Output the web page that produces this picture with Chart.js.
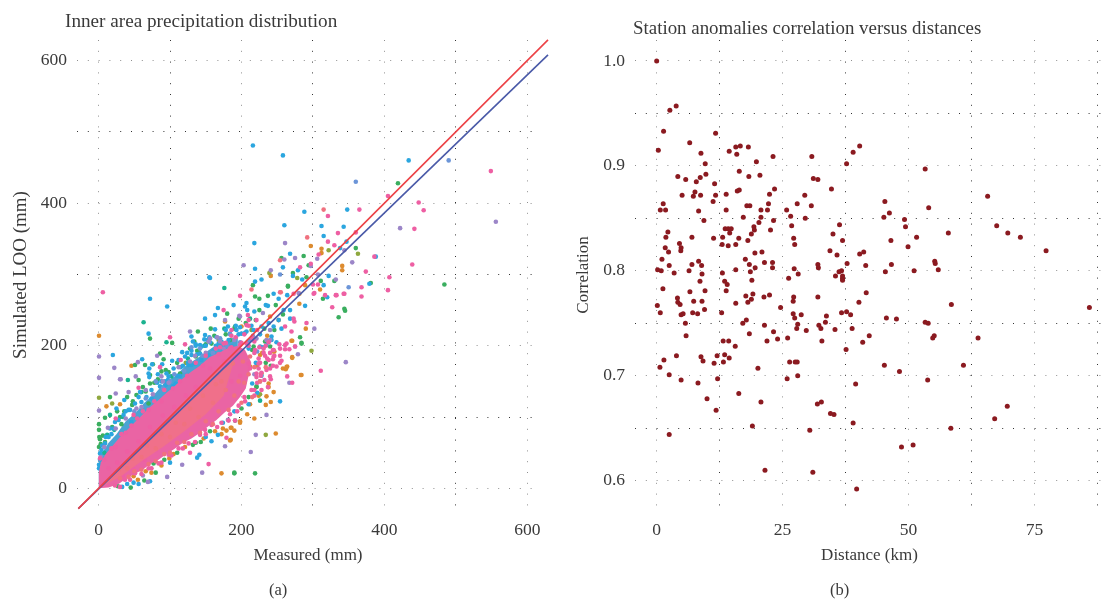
<!DOCTYPE html>
<html>
<head>
<meta charset="utf-8">
<title>Precipitation charts</title>
<script src="https://cdn.jsdelivr.net/npm/chart.js@4/dist/chart.umd.min.js"></script>
<style>
  html, body { margin: 0; padding: 0; background: #fff; overflow: hidden; }
  #page { position: relative; width: 1108px; height: 601px; font-family: "Liberation Serif", serif; color: #3a3a3a; }
  canvas { position: absolute; top: 0; }
  #chartA { left: 0; }
  #chartB { left: 554px; }
  .txt { position: absolute; white-space: nowrap; }
</style>
</head>
<body>
<div id="page">
  <canvas id="chartA" width="554" height="601"></canvas>
  <canvas id="chartB" width="554" height="601"></canvas>
  <div class="txt" style="left:65px;top:10px;font-size:19.2px">Inner area precipitation distribution</div>
  <div class="txt" style="left:633px;top:17px;font-size:18.9px">Station anomalies correlation versus distances</div>
  <div class="txt" style="left:269px;top:580px;font-size:16.5px">(a)</div>
  <div class="txt" style="left:830px;top:580px;font-size:16.5px">(b)</div>
</div>

<script>
// ---- panel (a) ----
const ticksA = [0, 200, 400, 600];

// fit lines, ends
const lineX = [-28.4, 629];
const redY = [-28.4, 629];
const blueY = [-28.4, 608];

// outline of the solid part of the cloud, too dense to read point by point
const outerUpper = [[0,0],[0,34],[5,50],[14,64],[25,76],[38,94],[52,106],[64,120],[80,134],[92,148],[108,158],[122,172],[140,184],[160,198],[176,206],[195,214]];
const outerLower = [[0,0],[195,190]];
const pinkUpper = [[0,0],[0,20],[3,36],[10,48],[20,60],[30,72],[42,84],[50,92],[62,104],[72,114],[84,124],[95,134],[107,144],[118,154],[130,164],[142,172],[155,184],[168,190],[180,196],[195,200],[205,194],[214,176]];
const pinkLower = [[0,0],[14,1],[28,6],[38,13],[50,20],[62,26],[72,34],[84,40],[95,48],[106,55],[118,64],[130,70],[142,78],[155,88],[165,96],[176,106],[188,116],[198,128],[206,140],[214,176]];
const coreUpper = [[2,2],[40,42],[80,82],[120,122],[160,160],[190,180]];
const coreLower = [[2,2],[30,16],[60,38],[90,58],[120,80],[150,104],[175,130],[190,180]];

// separate points
const orangePts = [[312,336],[297,340],[312,330],[341,312],[341,306],[241,298],[310,279],[289,285],[281,273],[0.6,214],[46,172],[11,115],[30,118],[172,21],[105,48],[172,76],[179,81],[186,85],[185,68],[174,84],[198,94],[99,42],[55,12],[49,17],[66,24],[271,183],[284,159],[264,171],[258,168],[262,167],[245,135],[241,121],[235,129],[234,117],[248,77],[198,92],[185,85],[190,81],[184,67],[238,147],[246,192],[271,207],[229,190],[281,259],[290,224],[270,207],[271,184],[263,170],[283,159],[226,187],[121,58],[147,70],[163,80],[212,118],[224,130],[208,104],[88,32],[74,22],[222,172],[236,214],[252,236],[218,98],
  [177,234],[200,227],[240,241],[245,192],[212,171],[228,161],[238,142]];
const oliveSpots = [[363,329],[278,295],[322,334],[239,302],[0.6,127],[19,119],[298,193],[234,75],[203,189],[168,208],[214,222],[226,132],[122,176]];
const greenPts = [[419,428],[360,337],[287,326],[256,323],[294,313],[272,302],[291,296],[330,291],[311,291],[216,285],[265,284],[484,286],[381,288],[219,269],[237,270],[225,266],[314,266],[72,210],[103,204],[139,220],[134,206],[138,193],[51,173],[65,173],[76,174],[91,181],[88,164],[56,152],[16,128],[36,108],[26,108],[9,99],[32,90],[0.6,90],[0.6,82],[9,65],[2,69],[0.6,58],[190,21],[132,61],[143,65],[136,64],[80,22],[64,11],[45,1],[27,3],[284,204],[219,21],[190,22],[191,95],[221,142],[241,172],[248,257],[225,250],[265,283],[344,252],[345,249],[336,240],[282,212],[284,203],[221,143],[215,194],[180,245],[86,189],[83,153],[72,147],[72,159],[53,131],[70,119],[40,128],[48,122],[62,142],
  [114,161],[98,163],[78,148],[66,136],[47,117],[30,100],[19,86],[6,74],[3,62],[1,72],[136,185],[150,202],[128,196],[162,214],[178,216],[190,224],[206,232],[220,236],[232,224],[196,238],[157,224],[110,176],[94,166],[77,35],[92,40],[110,50],[156,80],[200,112],[210,128],[234,176],[246,222],[258,244],
  [158,203],[191,227],[184,208],[217,199],[233,206],[240,199],[140,192]];
const tealPts = [[176,281],[63,233],[95,205],[41,152],[16,103],[12,75],[226,123],[60,135],[34,100],[22,82],[102,157],[125,182],[148,200],[176,224],[212,238],[8,50]];
const bluePts = [[216,481],[258,467],[434,460],[288,388],[348,391],[260,369],[312,368],[343,367],[315,354],[218,344],[347,346],[338,337],[268,329],[388,325],[219,308],[258,310],[279,306],[272,298],[322,298],[156,295],[228,293],[219,290],[285,293],[315,285],[379,287],[245,273],[264,271],[252,266],[72,266],[96,255],[149,238],[155,296],[70,217],[130,213],[149,215],[148,209],[117,191],[130,193],[61,181],[103,179],[71,168],[89,174],[105,168],[71,156],[83,160],[95,161],[20,187],[36,124],[18,76],[2,49],[0.6,28],[0.6,33],[141,47],[138,43],[158,66],[167,75],[40,6],[49,8],[254,122],[215,147],[189,257],[167,253],[163,243],[207,260],[205,255],[218,248],[208,250],[234,257],[237,256],[289,256],[320,268],[249,205],[75,174],[70,161],[108,147],[104,143],[94,145],[58,135],[74,126],[25,112],[46,93],[23,93],[115,170],[125,176],[138,188],[150,200],[165,212],[178,222],[192,228],[205,218],[44,110],[82,148],[97,152],[10,72],[5,60],[16,84],[130,173],[156,205],
  [107,145],[103,140],[121,185],[130,187],[144,199],[154,187],[168,203],[135,175],[144,180],[161,194],[175,192],[186,199],[142,189],[126,173],[114,158],[98,157],[93,150],[86,143],[74,138],[67,128],[60,121],[51,119],[42,110],[35,103],[28,96],[21,84],[14,72],[9,63],[4,54],[2,40],[118,172],[110,158],[88,150],[56,128],[38,108],[112,180],[124,190],[136,200],[172,206],[182,208],[196,216],[214,228],[226,216],[238,232],[242,208],[152,208],[164,200],[198,226],[72,10],[56,6],[33,2],[100,36],[222,134],[210,118],[174,92],[190,108],[150,72],[230,198],[210,196],[220,176],[202,186],[228,158],
  [163,223],[155,212],[136,202],[132,206],[142,201],[170,210],[175,201],[184,217],[193,222],[181,227],[200,217],[207,220],[226,199],[212,208],[235,201],[242,213],[217,222],[228,227],[245,227],[256,224],[268,250],[259,250],[252,236],[268,238]];
const periPts = [[490,460],[360,430],[350,282],[254,300],[130,198],[142,196],[170,210],[184,216],[198,205],[80,150],[100,150],[120,165],[106,160],[90,140],[66,126],[50,108],[146,186],[160,190],[180,200],[194,194],[210,206],[222,192],[186,180],[170,188]];
const purplePts = [[261,344],[422,365],[556,374],[344,334],[203,313],[260,321],[275,323],[306,322],[355,317],[297,312],[241,306],[307,300],[332,293],[128,220],[156,210],[0.6,185],[22,169],[82,186],[55,177],[0.6,155],[52,157],[88,157],[31,153],[24,133],[0.6,109],[13,85],[145,22],[117,33],[96,16],[177,59],[181,96],[62,18],[69,9],[346,177],[279,188],[267,148],[235,103],[220,75],[213,51],[226,150],[197,242],[230,246],[280,274],[302,224],[275,199],[235,208],[42,135],[53,112],[30,153],[66,138],[90,150],[112,170],[135,186],[150,190],[8,58],[3,44],[38,98],[76,132],[98,148],[128,178],[166,212],[190,208],[216,214],[240,222],[206,174],[218,160],[182,186],[60,114],[24,84],
  [170,206],[154,206],[175,196],[221,210],[198,241],[177,236],[240,208]];
const pinkPts = [[549,445],[405,410],[448,401],[455,390],[365,391],[321,382],[442,364],[360,359],[335,358],[321,346],[330,341],[386,325],[308,328],[439,314],[282,310],[297,315],[374,304],[407,296],[405,278],[368,282],[307,286],[300,286],[198,270],[302,274],[333,271],[343,273],[368,269],[317,271],[6,275],[100,212],[86,170],[121,202],[115,180],[24,98],[2,42],[154,34],[128,50],[179,71],[191,95],[311,165],[275,199],[264,157],[271,148],[241,153],[237,142],[218,138],[256,179],[246,186],[254,186],[253,202],[261,195],[244,181],[233,186],[175,250],[209,243],[254,275],[273,273],[301,273],[332,271],[344,273],[327,254],[291,232],[273,238],[274,234],[261,227],[270,220],[263,203],[267,195],[254,176],[227,158],[221,156],[224,168],[231,190],[56,141],[49,103],[215,210],[225,198],[236,182],[240,168],[232,152],[228,138],[240,190],[222,222],[210,228],[238,205],[244,172],[218,130],[205,122],[194,108],[182,95],[166,86],[150,76],[135,65],[118,56],[102,46],[88,36],[74,28],[60,20],[44,12],[30,2],[14,28],[8,40],[24,58],[38,78],[54,98],[70,110],[88,122],[104,140],[124,158],[146,172],[168,188],[186,198],
  [149,82],[158,89],[142,75],[126,63],[112,56],[98,47],[84,35],[70,28],[51,21],[37,12],[23,4],[200,204],[192,212],[178,204],[164,196],[150,186],[136,176],[114,150],[92,138],[78,122],[62,108],[46,88],[32,76],[18,56],[210,200],[218,190],[226,176],[228,162],[222,148],[214,138],[204,128],[196,116],[184,104],[172,92],[234,200],[244,194],[218,206],[204,216],[186,214],[170,198],[224,182],[212,168],[198,158],[186,150],[174,140],[160,126],[144,110],[128,96],[112,84],[96,70],[80,54],[64,40],[48,28],[34,18],[136,142],[122,130],[106,114],[90,102],[72,86],[56,66],[40,52],[26,36],[156,168],[176,178],[194,184],
  [186,222],[207,229],[210,236],[221,236],[175,203],[184,196],[198,201],[207,203],[219,194],[231,196],[245,194],[254,196],[261,201],[210,175],[224,175],[235,166],[221,161],[240,157],[245,185],[238,180],[249,171]];
const coralPts = [[315,391],[292,352],[254,320],[214,279],[255,275],[234,170],[226,150],[215,128],[200,120],[182,110],[160,90],[142,78],[120,65],[100,50],[80,38],[60,26],[42,16],[210,160],[196,150],[178,138],[160,120],[140,100],[120,90],[100,72],[80,56],[60,44],[40,28],[188,175],[212,185],[172,150],[202,178],[190,130],[168,108],[150,94],[130,76],[110,64],[92,48],[70,34],[50,24],[30,14],[108,92],[128,112],[146,130],[164,146],[88,76],[68,60],[48,42],[28,26],[204,148],[218,170]];

const cloudLayers = [
  { pts: orangePts, color: '#dd8b2f' },
  { pts: oliveSpots, color: '#8fa83f' },
  { pts: greenPts, color: '#3aae5f' },
  { pts: tealPts, color: '#1bb28f' },
  { pts: bluePts, color: '#2ba6df' },
  { pts: periPts, color: '#6c95d8' },
  { pts: purplePts, color: '#9c86c8' }
];

// ---- panel (b) ----
const distanceKm = [0,2.62,3.87,1.37,11.7,0.33,6.56,8.79,9.64,14.4,15.7,16.6,18.2,15.9,23.1,19.8,30.8,4.2,5.77,7.87,8.65,9.77,11.5,16.4,18.3,20.5,31.1,32,23.4,34.7,5.05,7.6,7.28,8.72,11.7,13.8,16,16.4,22.4,29.4,11.2,1.3,0.72,1.77,8.33,13.8,17.9,18.5,20.7,22,22.2,27.9,30.7,25.8,26.6,9.38,17.2,20.7,23.2,20.3,29.5,26.8,2.23,13.6,14.2,14.8,14.5,19.3,19.4,22.6,1.83,7,11.3,13.1,16.3,18.8,27.2,35,4.53,4.85,1.7,4.79,2.36,13,14.2,15.7,18.1,27.4,19.5,20.9,34.4,35.8,1.05,8.33,17.6,21.4,23,2.49,7,8.92,18.4,32,32.1,23,0.19,0.91,3.47,6.43,15.7,19.55,13.05,18.6,27.3,28.1,9,26.2,35.5,
  40.3,39,37.7,53.3,65.7,45.3,54,46.2,45.1,49.2,49.4,36.3,67.5,69.7,72.2,57.9,51.6,46.5,36.9,49.9,41.1,40.3,77.3,37.8,41.5,46.6,55.2,55.3,55.9,51.1,45.4,36.7,36.2,36.9,36.9,
  8.6,13.5,14,18.9,1.24,13.8,6.6,9.6,17.7,19.1,22.4,21.3,18.8,18.1,27.2,27.1,32,4.13,4.2,4.65,7.35,9,15.7,0.13,24.6,9.5,0.72,7.15,4.85,5.25,8.13,12.9,27.1,28.7,33.7,27.4,17.8,17.1,5.7,21.4,28,33.5,32.2,32.6,27.8,35.4,23.2,29.7,18.4,5.84,26,24,21.9,13.2,14.3,32.8,15.6,3.93,13.5,12,8.8,14.4,1.44,9.2,11.4,13.25,26.4,27.5,27.9,0.65,20.1,2.49,28,4.85,12.1,25.9,8.2,16.3,10,20.7,32.7,31.9,11.8,34.5,35.2,19,30.4,2.49,21.5,31,
  36.9,41.6,40.15,58.5,85.9,36.7,37.7,38.5,45.6,47.6,53.3,53.9,38.8,42.2,40.9,55.1,54.8,63.8,37.6,45.2,60.9,48.2,53.8,39.5,69.6,67.1,39,58.4,50.9,48.6,39.7];
const correlation = [1,0.953,0.957,0.933,0.931,0.915,0.922,0.912,0.902,0.914,0.918,0.919,0.918,0.911,0.909,0.904,0.909,0.89,0.887,0.885,0.889,0.892,0.883,0.895,0.89,0.891,0.888,0.887,0.878,0.878,0.872,0.875,0.871,0.872,0.872,0.873,0.876,0.877,0.873,0.872,0.866,0.864,0.858,0.858,0.857,0.858,0.862,0.862,0.858,0.858,0.864,0.864,0.862,0.858,0.852,0.848,0.851,0.851,0.848,0.846,0.85,0.843,0.837,0.84,0.84,0.84,0.836,0.842,0.839,0.839,0.832,0.832,0.831,0.832,0.831,0.835,0.831,0.835,0.826,0.822,0.822,0.819,0.818,0.825,0.824,0.825,0.829,0.825,0.817,0.818,0.819,0.815,0.811,0.809,0.811,0.808,0.808,0.805,0.806,0.805,0.806,0.806,0.803,0.803,0.801,0.8,0.798,0.8,0.801,0.803,0.798,0.799,0.802,0.797,0.797,0.793,0.795,
  0.919,0.913,0.902,0.897,0.871,0.866,0.86,0.855,0.851,0.849,0.842,0.844,0.843,0.836,0.832,0.836,0.832,0.829,0.829,0.823,0.818,0.816,0.819,0.807,0.805,0.806,0.809,0.807,0.801,0.8,0.799,0.8,0.799,0.795,0.793,
  0.79,0.79,0.787,0.791,0.783,0.781,0.78,0.781,0.776,0.778,0.777,0.775,0.773,0.77,0.775,0.771,0.775,0.774,0.77,0.768,0.771,0.771,0.769,0.767,0.765,0.763,0.76,0.76,0.758,0.759,0.759,0.76,0.759,0.758,0.757,0.755,0.753,0.75,0.75,0.748,0.749,0.751,0.748,0.745,0.745,0.744,0.742,0.743,0.74,0.738,0.736,0.735,0.733,0.733,0.733,0.733,0.728,0.719,0.72,0.719,0.718,0.717,0.715,0.714,0.712,0.713,0.713,0.713,0.713,0.708,0.707,0.701,0.7,0.696,0.697,0.697,0.693,0.683,0.678,0.675,0.675,0.673,0.667,0.664,0.663,0.652,0.648,0.644,0.61,0.608,
  0.791,0.779,0.77,0.768,0.765,0.76,0.761,0.758,0.755,0.754,0.751,0.75,0.745,0.738,0.732,0.738,0.736,0.736,0.725,0.71,0.71,0.704,0.696,0.692,0.671,0.659,0.655,0.65,0.634,0.632,0.592];
const ticksBx = [0, 25, 50, 75];
const ticksBy = [0.6, 0.7, 0.8, 0.9, 1.0];

// ---- shared style ----
const textColor = '#3a3a3a';
const fontFamily = '"Liberation Serif", serif';

function toXY(pairs) {
  return pairs.map(p => ({ x: p[0], y: p[1] }));
}

function dotted(isMajor) {
  return {
    color: ctx => isMajor(ctx.tick.value) ? '#8f8f8f' : '#333333',
    lineWidth: 1,
    drawTicks: false
  };
}

function axisOptions(o) {
  return {
    type: 'linear',
    min: o.min,
    max: o.max,
    border: { display: false, dash: [1, 9.8], dashOffset: o.offset || 0 },
    grid: dotted(o.isMajor),
    title: {
      display: true,
      text: o.title,
      color: textColor,
      font: { family: fontFamily, size: o.titleSize || 17 },
      padding: o.titlePad
    },
    ticks: {
      stepSize: o.step,
      includeBounds: false,
      autoSkip: false,
      maxRotation: 0,
      padding: 10,
      color: textColor,
      font: { family: fontFamily, size: 17.5 },
      callback: o.label
    },
    afterFit: o.fit
  };
}

function areaDataset(pairs, color, order, fillTarget) {
  return {
    data: toXY(pairs),
    showLine: true,
    tension: 0,
    borderWidth: 0,
    borderColor: color,
    backgroundColor: color,
    pointRadius: 0,
    fill: fillTarget,
    order: order
  };
}

function dotsDataset(pairs, color, order) {
  return {
    data: toXY(pairs),
    pointRadius: 2.3,
    pointBorderWidth: 0,
    pointBackgroundColor: color,
    order: order
  };
}

function lineDataset(ys, color, order) {
  return {
    data: lineX.map((x, i) => ({ x: x, y: ys[i] })),
    showLine: true,
    tension: 0,
    borderColor: color,
    borderWidth: 1.6,
    pointRadius: 0,
    clip: false,
    order: order
  };
}

const datasetsA = [
  lineDataset(redY, '#ec4246', 1),
  lineDataset(blueY, '#4a5aa8', 2),
  dotsDataset(coralPts, '#f0717f', 3),
  areaDataset(coreUpper, '#f0708a', 4, '+1'),
  areaDataset(coreLower, '#f0708a', 4, false),
  dotsDataset(pinkPts, '#ee5fa3', 5),
  areaDataset(pinkUpper, '#ea64a4', 6, '+1'),
  areaDataset(pinkLower, '#ea64a4', 6, false)
];
cloudLayers.forEach((layer, i) => {
  datasetsA.push(dotsDataset(layer.pts, layer.color, 20 - i));
});
datasetsA.push(areaDataset(outerUpper, '#4aa3d4', 30, '+1'));
datasetsA.push(areaDataset(outerLower, '#4aa3d4', 30, false));

new Chart(document.getElementById('chartA'), {
  type: 'scatter',
  data: { datasets: datasetsA },
  options: {
    responsive: false,
    animation: false,
    layout: { padding: { top: 40, right: 15, bottom: 31, left: 0 } },
    plugins: { legend: { display: false }, tooltip: { enabled: false } },
    scales: {
      x: axisOptions({
        min: -30.2, max: 616.4, step: 100, title: 'Measured (mm)',
        titlePad: { top: 0, bottom: 4 },
        isMajor: v => v % 200 === 0,
        label: v => ticksA.includes(v) ? String(v) : '',
        fit: s => { s.height = 60; }
      }),
      y: axisOptions({
        min: -30.4, max: 628.9, step: 100, title: 'Simulated LOO (mm)', titleSize: 19,
        titlePad: { top: 10, bottom: 0 },
        isMajor: v => v % 200 === 0,
        label: v => ticksA.includes(v) ? String(v) : '',
        fit: s => { s.width = 77; }
      })
    }
  }
});

new Chart(document.getElementById('chartB'), {
  type: 'scatter',
  data: {
    datasets: [{
      data: distanceKm.map((d, i) => ({ x: d, y: correlation[i] })),
      pointRadius: 2.5,
      pointBorderWidth: 0,
      pointBackgroundColor: '#8b1a20'
    }]
  },
  options: {
    responsive: false,
    animation: false,
    layout: { padding: { top: 40, right: 0, bottom: 31, left: 0 } },
    plugins: { legend: { display: false }, tooltip: { enabled: false } },
    scales: {
      x: axisOptions({
        min: -4.3, max: 88.8, step: 12.5, title: 'Distance (km)',
        titlePad: { top: 0, bottom: 4 },
        isMajor: v => v % 25 === 0,
        label: v => ticksBx.includes(v) ? String(v) : '',
        fit: s => { s.height = 60; }
      }),
      y: axisOptions({
        min: 0.572, max: 1.02, step: 0.05, title: 'Correlation',
        titlePad: { top: 19, bottom: 0 },
        isMajor: v => Math.round(v * 100) % 10 === 0,
        label: v => ticksBy.some(t => Math.abs(t - v) < 1e-6) ? v.toFixed(1) : '',
        fit: s => { s.width = 81; }
      })
    }
  }
});
</script>
</body>
</html>
